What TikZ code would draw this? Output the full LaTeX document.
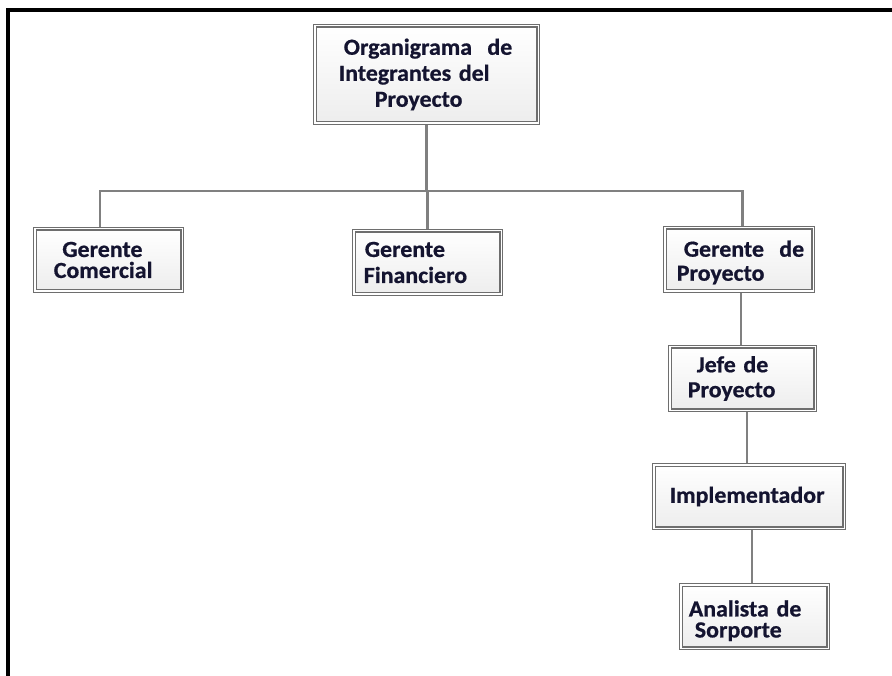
\documentclass[tikz,border=0pt]{standalone}
\usepackage{fontspec}
\setmainfont{Carlito}[FakeStretch=1.04, BoldFeatures={FakeBold=0.7}]
\usetikzlibrary{backgrounds}
\definecolor{boxline}{RGB}{110,110,110}
\definecolor{linkgray}{RGB}{128,128,128}
\definecolor{labelink}{RGB}{20,20,48}
\begin{document}
\begin{tikzpicture}[x=1pt,y=-1pt,
  orgbox/.style args={#1/#2}{draw=boxline, line width=1.1pt, double=white,
    double distance=1.4pt, top color=white, bottom color=gray!14,
    inner xsep=0pt, inner ysep=0pt, minimum width=#1, text width=#1,
    minimum height=#2, align=left, text=labelink},
  lead/.style={font=\bfseries\fontsize{23}{#1}\selectfont},
  link/.style={draw=linkgray, line width=2.2pt}]
\useasboundingbox (0,0) rectangle (892,676);

% page frame (top and left edges)
\draw[line width=4pt, line join=miter] (896,10) -- (8,10) -- (8,680);

% boxes
\node[orgbox=223.4pt/97.4pt, lead=26] (top) at (426.5,74.5)
  {\hspace*{29pt}Organigrama\ \ de\\\hspace*{24pt}Integrantes del\\\hspace*{60pt}Proyecto};
\node[orgbox=147.4pt/62.4pt, lead=21] (gc) at (108.5,260)
  {\hspace*{27.5pt}Gerente\\\hspace*{19pt}Comercial};
\node[orgbox=147.4pt/63.4pt, lead=26] (gf) at (427.5,262.5)
  {\hspace*{11pt}Gerente\\\hspace*{10pt}Financiero};
\node[orgbox=148.4pt/63.4pt, lead=24] (gp) at (739,259.5)
  {\rule{0pt}{22pt}\hspace*{19pt}Gerente\ \ de\\\hspace*{12pt}Proyecto};
\node[orgbox=145.4pt/63.4pt, lead=25] (jefe) at (742.5,378.5)
  {\hspace*{27pt}Jefe de\\\hspace*{18pt}Proyecto};
\node[orgbox=190.4pt/63.4pt, lead=25] (impl) at (749,496.5)
  {\hspace*{16pt}Implementador};
\node[orgbox=147.4pt/63.4pt, lead=21] (anal) at (754.5,616.5)
  {\rule{0pt}{24.5pt}\hspace*{8pt}Analista de\\\hspace*{14pt}Sorporte};

% connectors
\coordinate (bus) at (427,191);
\coordinate (gcdrop) at ([xshift=-8.5pt]gc.north);
\coordinate (gpdrop) at ([xshift=3.5pt]gp.north);
\begin{scope}[on background layer]
  \draw[link] (top.south) -- (top.south |- bus);
  \draw[link] (gcdrop) -- (gcdrop |- bus) -- (gpdrop |- bus) -- (gpdrop);
  \draw[link] (gf.north) -- (gf.north |- bus);
  \draw[link] ([xshift=2pt]gp.south) -- ([xshift=2pt]gp.south |- jefe.north);
  \draw[link] ([xshift=4.5pt]jefe.south) -- ([xshift=4.5pt]jefe.south |- impl.north);
  \draw[link] ([xshift=3pt]impl.south) -- ([xshift=3pt]impl.south |- anal.north);
\end{scope}
\end{tikzpicture}
\end{document}
